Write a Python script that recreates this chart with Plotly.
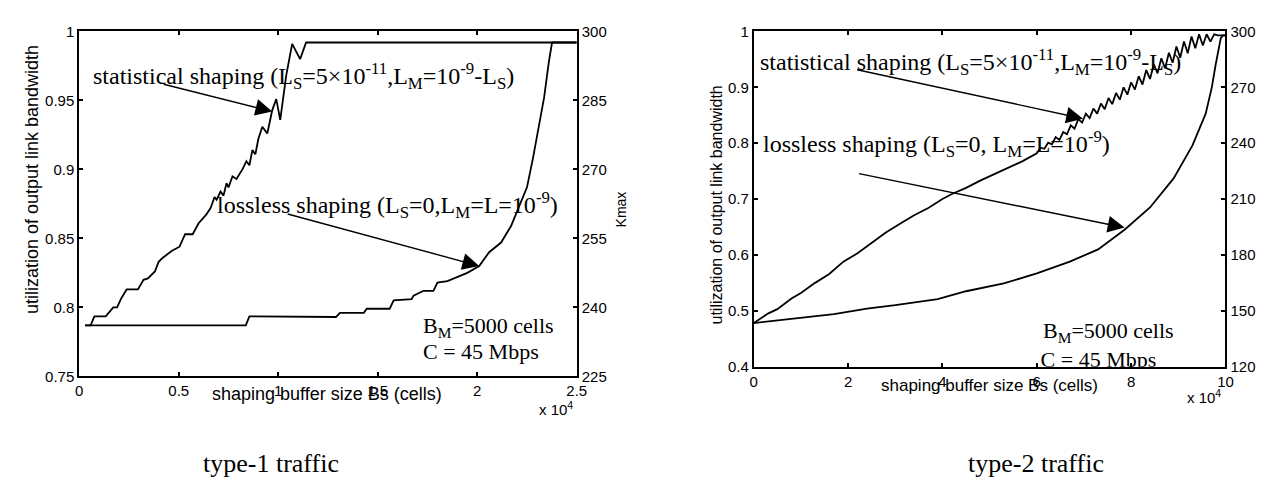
import plotly.graph_objects as go

# ---------------- data (x in cells, y = utilization of output link bandwidth) ----------------
T1_STAT_X = [300, 570, 760, 1330, 1710, 1900, 2090, 2380, 2950, 3230, 3450, 3800, 3990, 4200,
             4660, 5040, 5320, 5700, 6000, 6370, 6600, 6800, 6900, 7100, 7250, 7400, 7500, 7700,
             7900, 8200, 8400, 8550, 8700, 8850, 9000, 9200, 9450, 9700, 9900, 10100, 10400,
             10700, 11100, 11400, 25000]
T1_STAT_Y = [0.787, 0.787, 0.7935, 0.7935, 0.800, 0.800, 0.806, 0.813, 0.813, 0.820, 0.821,
             0.826, 0.833, 0.836, 0.841, 0.844, 0.853, 0.853, 0.861, 0.867, 0.872, 0.880, 0.878,
             0.884, 0.881, 0.890, 0.887, 0.895, 0.893, 0.900, 0.906, 0.903, 0.914, 0.911, 0.922,
             0.931, 0.926, 0.943, 0.951, 0.936, 0.968, 0.991, 0.980, 0.992, 0.992]

T1_LOSS_X = [300, 8370, 8550, 12900, 13100, 14300, 14450, 15600, 15800, 16700, 16800, 17300,
             17800, 18000, 18500, 19000, 19500, 20100, 20600, 21200, 21700, 22100, 22500,
             22800, 23100, 23360, 23600, 23760, 25000]
T1_LOSS_Y = [0.787, 0.787, 0.7935, 0.793, 0.796, 0.796, 0.799, 0.799, 0.805, 0.806, 0.8085,
             0.812, 0.812, 0.818, 0.819, 0.822, 0.825, 0.830, 0.840, 0.847, 0.859, 0.873, 0.887,
             0.908, 0.933, 0.952, 0.978, 0.992, 0.992]

T2_STAT_X = [0, 3000, 5000, 8000, 10000, 13000, 16000, 19000, 22000, 25000, 28000, 31000,
             34000, 37000, 40000, 42000, 45000, 48000, 51000, 54000, 57000,
             60000, 60800, 61600, 62400, 63200, 64000, 64800, 65600, 66400, 67200, 68000,
             68800, 69600, 70400, 71200, 72000, 72800, 73600, 74400, 75200, 76000, 76800,
             77600, 78400, 79200, 80000, 80800, 81600, 82400, 83200, 84000, 84800, 85600,
             86400, 87200, 88000, 88800, 89600, 90400, 91200, 92000, 92800, 93600, 94400,
             95200, 96000, 96800, 97600, 98400, 100000]
T2_STAT_Y = [0.478, 0.495, 0.503, 0.522, 0.532, 0.550, 0.566, 0.588, 0.603, 0.622, 0.640,
             0.656, 0.671, 0.684, 0.700, 0.709, 0.720, 0.733, 0.745, 0.757, 0.768,
             0.782, 0.792, 0.790, 0.801, 0.798, 0.811, 0.806, 0.820, 0.816, 0.832, 0.826,
             0.843, 0.837, 0.853, 0.845, 0.862, 0.853, 0.871, 0.861, 0.881, 0.870, 0.890,
             0.878, 0.900, 0.887, 0.909, 0.896, 0.920, 0.905, 0.931, 0.915, 0.941, 0.925,
             0.952, 0.934, 0.962, 0.944, 0.973, 0.953, 0.982, 0.961, 0.991, 0.970, 0.995,
             0.975, 0.995, 0.982, 0.995, 0.993, 0.993]

T2_LOSS_X = [0, 9000, 17000, 24000, 30000, 39000, 45000, 53000, 60000, 67000, 73000, 78600,
             84000, 89000, 93000, 95800, 97100, 97900, 99000, 99500, 100000]
T2_LOSS_Y = [0.478, 0.486, 0.494, 0.504, 0.510, 0.521, 0.535, 0.549, 0.567, 0.588, 0.610,
             0.645, 0.685, 0.737, 0.796, 0.853, 0.900, 0.940, 0.988, 0.993, 0.993]

X_SCALE = 1e4
T1_XTICKS = [0, 0.5, 1, 1.5, 2, 2.5]
T1_YTICKS = [0.75, 0.8, 0.85, 0.9, 0.95, 1]
T1_KTICKS = [225, 240, 255, 270, 285, 300]
T2_XTICKS = [0, 2, 4, 6, 8, 10]
T2_YTICKS = [0.4, 0.5, 0.6, 0.7, 0.8, 0.9, 1]
T2_KTICKS = [120, 150, 180, 210, 240, 270, 300]

SANS = "Liberation Sans"
SERIF = "Liberation Serif"

fig = go.Figure()
line = dict(color="black", width=1.8)
fig.add_trace(go.Scatter(x=[v / X_SCALE for v in T1_STAT_X], y=T1_STAT_Y, mode="lines",
                         line=line, xaxis="x", yaxis="y", showlegend=False))
fig.add_trace(go.Scatter(x=[v / X_SCALE for v in T1_LOSS_X], y=T1_LOSS_Y, mode="lines",
                         line=line, xaxis="x", yaxis="y", showlegend=False))
fig.add_trace(go.Scatter(x=[None], y=[None], xaxis="x", yaxis="y2", showlegend=False))
fig.add_trace(go.Scatter(x=[v / X_SCALE for v in T2_STAT_X], y=T2_STAT_Y, mode="lines",
                         line=line, xaxis="x2", yaxis="y3", showlegend=False))
fig.add_trace(go.Scatter(x=[v / X_SCALE for v in T2_LOSS_X], y=T2_LOSS_Y, mode="lines",
                         line=line, xaxis="x2", yaxis="y3", showlegend=False))
fig.add_trace(go.Scatter(x=[None], y=[None], xaxis="x2", yaxis="y4", showlegend=False))
# bandwidth note in type-2 panel, clipped by the plot area like in the original
fig.add_trace(go.Scatter(x=[6.08], y=[0.409], mode="text", text=["C = 45 Mbps"],
                         textposition="middle right", cliponaxis=True,
                         textfont=dict(family=SERIF, size=22, color="black"),
                         xaxis="x2", yaxis="y3", showlegend=False, hoverinfo="skip"))

W, H = 1272, 499
def px(x):
    return x / W
def py(y):
    return 1 - y / H

L = (68, 571, 15, 372)
R = (750, 1227, 15, 362)

axcommon = dict(showgrid=False, zeroline=False, showline=True, linecolor="black", linewidth=2,
                ticks="inside", ticklen=4, tickcolor="black", tickwidth=1.5,
                tickfont=dict(family=SANS, size=15, color="black"))

fig.update_layout(
    width=W, height=H, margin=dict(l=0, r=0, t=0, b=0),
    paper_bgcolor="white", plot_bgcolor="white",
    xaxis=dict(domain=[px(L[0]), px(L[1])], range=[0, 2.5], tickvals=T1_XTICKS,
               ticktext=[f"{v:g}" for v in T1_XTICKS], mirror="ticks", anchor="y", **axcommon),
    yaxis=dict(domain=[py(L[3]), py(L[2])], range=[0.75, 1], tickvals=T1_YTICKS,
               ticktext=[f"{v:g}" for v in T1_YTICKS], anchor="x", **axcommon),
    yaxis2=dict(overlaying="y", side="right", range=[225, 300], tickvals=T1_KTICKS,
                anchor="x", **axcommon),
    xaxis2=dict(domain=[px(R[0]), px(R[1])], range=[0, 10], tickvals=T2_XTICKS,
                mirror="ticks", anchor="y3", **axcommon),
    yaxis3=dict(domain=[py(R[3]), py(R[2])], range=[0.4, 1], tickvals=T2_YTICKS,
                ticktext=[f"{v:g}" for v in T2_YTICKS], anchor="x2", **axcommon),
    yaxis4=dict(overlaying="y3", side="right", range=[120, 300], tickvals=T2_KTICKS,
                anchor="x2", **axcommon),
)

ann = []
def txt(text, x, y, xref, yref, size=24, family=SERIF, xanchor="left", angle=0):
    ann.append(dict(text=text, x=x, y=y, xref=xref, yref=yref, showarrow=False,
                    xanchor=xanchor, yanchor="middle", textangle=angle,
                    font=dict(family=family, size=size, color="black")))

def arrow(xt, yt, xh, yh, xref, yref):
    ann.append(dict(text="", x=xh, y=yh, ax=xt, ay=yt, xref=xref, yref=yref,
                    axref=xref, ayref=yref, showarrow=True, arrowhead=2, arrowsize=2.4,
                    arrowwidth=1.4, arrowcolor="black"))

stat = "statistical shaping (L<sub>S</sub>=5×10<sup>-11</sup>,L<sub>M</sub>=10<sup>-9</sup>-L<sub>S</sub>)"
txt(stat, 0.06, 0.968, "x", "y")
txt("lossless shaping (L<sub>S</sub>=0,L<sub>M</sub>=L=10<sup>-9</sup>)", 0.68, 0.874, "x", "y")
txt("B<sub>M</sub>=5000 cells", 1.715, 0.786, "x", "y", size=22)
txt("C = 45 Mbps", 1.715, 0.768, "x", "y", size=22)
arrow(0.417, 0.962, 0.97, 0.942, "x", "y")
arrow(1.04, 0.868, 2.01, 0.83, "x", "y")

txt(stat, 0.1, 0.945, "x2", "y3")
txt("lossless shaping (L<sub>S</sub>=0, L<sub>M</sub>=L=10<sup>-9</sup>)", 0.15, 0.798, "x2", "y3")
txt("B<sub>M</sub>=5000 cells", 6.08, 0.462, "x2", "y3", size=22)
arrow(2.16, 0.932, 6.98, 0.844, "x2", "y3")
arrow(2.2, 0.746, 7.86, 0.649, "x2", "y3")

# axis titles
ytitle = "utilization of output link bandwidth"
txt(ytitle, px(20), py(168), "paper", "paper", size=18, family=SANS, xanchor="center", angle=-90)
txt(ytitle, px(712), py(195), "paper", "paper", size=16, family=SANS, xanchor="center", angle=-90)
txt("Kmax", px(616), py(199), "paper", "paper", size=14, family=SANS, xanchor="center", angle=-90)
xtitle = "shaping buffer size Bs (cells)"
txt(xtitle, px(318), py(390), "paper", "paper", size=18, family=SANS, xanchor="center")
txt(xtitle, px(988), py(382), "paper", "paper", size=17, family=SANS, xanchor="center")
txt("x 10<sup>4</sup>", px(550), py(405), "paper", "paper", size=15, family=SANS, xanchor="center")
txt("x 10<sup>4</sup>", px(1205), py(393), "paper", "paper", size=15, family=SANS, xanchor="center")
# captions
txt("type-1 traffic", px(262), py(462), "paper", "paper", size=26, family=SERIF, xanchor="center")
txt("type-2 traffic", px(1035), py(462), "paper", "paper", size=26, family=SERIF, xanchor="center")

fig.update_layout(annotations=ann)
fig.write_html("out.html")
